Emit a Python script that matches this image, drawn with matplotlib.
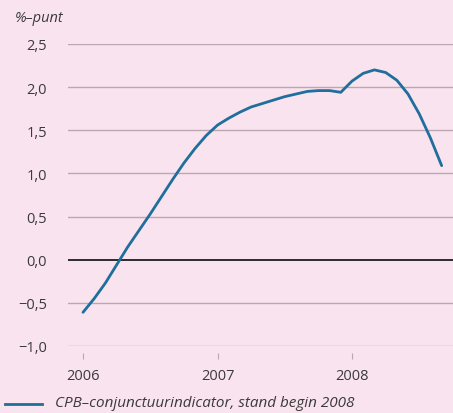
import numpy as np
import matplotlib
matplotlib.use("Agg")
import matplotlib.pyplot as plt
from matplotlib.lines import Line2D

# monthly values, jan 2006 .. sep 2008
start_year = 2006
indicator = [-0.61, -0.45, -0.27, -0.06, 0.15, 0.34, 0.53, 0.73, 0.93, 1.12,
             1.29, 1.44, 1.56, 1.64, 1.71, 1.77, 1.81, 1.85, 1.89, 1.92,
             1.95, 1.96, 1.96, 1.94, 2.07, 2.16, 2.20, 2.17, 2.08, 1.92,
             1.69, 1.41, 1.09]
yticks = [-1.0, -0.5, 0.0, 0.5, 1.0, 1.5, 2.0, 2.5]
xticks = [2006, 2007, 2008]
legend_label = "CPB\u2013conjunctuurindicator, stand begin 2008"

bg = "#f9e3ef"
grid_col = "#bda6b2"
line_col = "#1f6e9c"
text_col = "#3a3a3a"

plt.rcParams['font.family'] = ['Open Sans', 'DejaVu Sans']

x = start_year + np.arange(len(indicator)) / 12.0

fig = plt.figure(figsize=(4.53, 4.14), dpi=100, facecolor=bg)
ax = fig.add_axes([68 / 453, 1 - 347 / 414, 1 - 68 / 453, (347 - 45) / 414])
ax.set_facecolor(bg)

for yv in yticks:
    if yv == 0:
        ax.axhline(yv, color="#2b2b2b", lw=1.4, zorder=2)
    else:
        ax.axhline(yv, color=grid_col, lw=1.0, zorder=1)

ax.plot(x, indicator, color=line_col, lw=2.0, zorder=3, solid_capstyle='round')

ax.set_xlim(2006 - 15 / 134.5, 2006 + 370 / 134.5)
ax.set_ylim(-1.0, 2.5)
ax.set_yticks(yticks)
ax.set_yticklabels([f"{v:.1f}".replace(".", ",").replace("-", "\u2212") for v in yticks])
ax.set_xticks(xticks)
ax.set_xticklabels([str(v) for v in xticks])

for s in ax.spines.values():
    s.set_visible(False)
ax.spines['bottom'].set_position(('outward', 5))
ax.tick_params(axis='y', length=0, pad=15, labelsize=10.5, labelcolor=text_col)
ax.tick_params(axis='x', length=4, width=0.8, color=grid_col, pad=7,
               labelsize=10.5, labelcolor=text_col)

fig.text(15 / 453, 1 - 18 / 414, "%\u2013punt", ha='left', va='center',
         fontsize=10.5, style='italic', color=text_col)

fig.add_artist(Line2D([5 / 453, 42 / 453], [1 - 405 / 414, 1 - 405 / 414],
                      color=line_col, lw=2.0))
fig.text(55 / 453, 1 - 404 / 414, legend_label, ha='left', va='center',
         fontsize=11, style='italic', color=text_col)

fig.savefig("out.png", dpi=100, facecolor=bg)
